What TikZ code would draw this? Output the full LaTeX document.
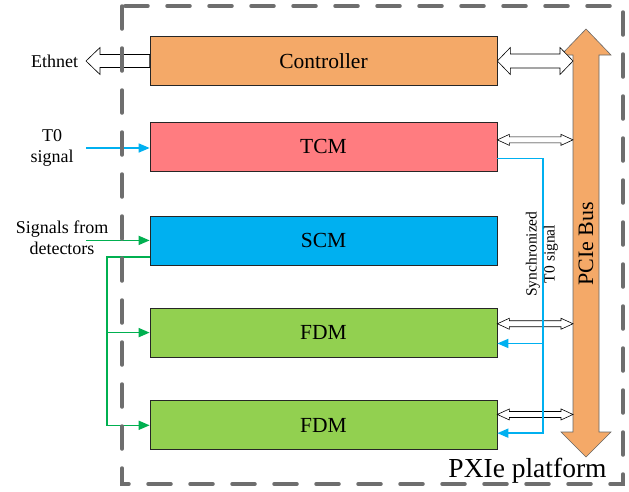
\documentclass[tikz,border=0pt]{standalone}
\usepackage{fontspec}
\setmainfont{Liberation Serif}
\usepackage{xcolor}
\usetikzlibrary{arrows.meta,positioning,calc}

\definecolor{ctrlorange}{HTML}{F4A968}
\definecolor{tcmred}{HTML}{FF7C80}
\definecolor{scmblue}{HTML}{00B0F0}
\definecolor{fdmgreen}{HTML}{92D050}
\definecolor{sigblue}{HTML}{00B0F0}
\definecolor{siggreen}{HTML}{00B050}
\definecolor{framegray}{HTML}{6E6E6E}

% hollow two-headed connector: from, to, half shaft, half head, head length
\newcommand{\dblhollow}[5]{%
  \draw[hollow] let \p1=#1, \p2=#2 in
    (\x1,\y1) -- (\x1+#5,\y1+#4) -- (\x1+#5,\y1+#3) -- (\x2-#5,\y1+#3)
    -- (\x2-#5,\y1+#4) -- (\x2,\y1) -- (\x2-#5,\y1-#4) -- (\x2-#5,\y1-#3)
    -- (\x1+#5,\y1-#3) -- (\x1+#5,\y1-#4) -- cycle;}
% hollow one-headed connector pointing left: from, tip, half shaft, half head, head length
\newcommand{\lefthollow}[5]{%
  \draw[hollow] let \p1=#1, \p2=#2 in
    (\x2,\y1) -- (\x2+#5,\y1+#4) -- (\x2+#5,\y1+#3) -- (\x1,\y1+#3)
    -- (\x1,\y1-#3) -- (\x2+#5,\y1-#3) -- (\x2+#5,\y1-#4) -- cycle;}

\begin{document}
\begin{tikzpicture}[x=1pt,y=-1pt,
      module/.style={
        rectangle,
        draw=black!85,
        line width=0.7pt,
        minimum width=347pt,
        minimum height=49pt,
        inner sep=0pt,
        font=\fontsize{21.5}{24}\selectfont
      },
      lbl/.style={align=center,inner sep=0pt,font=\fontsize{18}{20.5}\selectfont},
      hollow/.style={draw=black,fill=white,line width=0.6pt},
      bluesig/.style={draw=sigblue,line width=1.6pt},
      greensig/.style={draw=siggreen,line width=1.6pt},
      sigarrow/.style={-{Triangle[length=11pt,width=9pt]}},
      frame/.style={draw=framegray,line width=3.5pt,line cap=round,dash pattern=on 23pt off 19pt}
    ]
    \useasboundingbox (0,0) rectangle (629,491);

    % Modules
    \node[module,fill=ctrlorange] (ctrl) at (323.5,61) {Controller};
    \node[module,fill=tcmred,below=36pt of ctrl] (tcm) {TCM};
    \node[module,fill=scmblue,below=44pt of tcm] (scm) {SCM};
    \node[module,fill=fdmgreen,below=42.5pt of scm] (fdma) {FDM};
    \node[module,fill=fdmgreen,below=43pt of fdma] (fdmb) {FDM};

    % PCIe bus
    \draw[draw=black!60,fill=ctrlorange,line width=0.6pt]
      (586,29) -- (611,55) -- (599,55) -- (599,432) -- (611,432) -- (586,457)
      -- (561,432) -- (573,432) -- (573,55) -- (561,55) -- cycle;
    \node[rotate=90,font=\fontsize{22}{24}\selectfont] (pcie) at (586,244) {PCIe Bus};
    \coordinate (busL) at (573,243);

    % Outside labels
    \node[lbl] (eth) at (54.5,61) {Ethnet};
    \node[lbl] (t0lbl) at (52,148) {T0\\signal};
    \node[lbl] (detlbl) at (62,237.5) {Signals from\\detectors};
    \coordinate (inx) at (86,0);

    % Ports
    \coordinate (tcmport) at ($(tcm.north east)+(0,18)$);
    \coordinate (fdmaport) at ($(fdma.north east)+(0,16)$);
    \coordinate (fdmbport) at ($(fdmb.north east)+(0,14)$);
    \coordinate (syncout) at ($(tcm.south east)+(0,-13)$);
    \coordinate (fdmain) at ($(fdma.south east)+(0,-14)$);
    \coordinate (fdmbin) at ($(fdmb.south east)+(0,-17)$);
    \coordinate (syncx) at (543,0);
    \coordinate (scmout) at ($(scm.south west)+(0,-8)$);
    \coordinate (trunk) at (107,0);

    % Bus links
    \lefthollow{(ctrl.west)}{(inx |- ctrl.west)}{6.5pt}{13.5pt}{14pt}
    \dblhollow{(ctrl.east)}{(ctrl.east -| busL)}{7pt}{13.5pt}{13pt}
    \dblhollow{(tcmport)}{(tcmport -| busL)}{3pt}{5.5pt}{12pt}
    \dblhollow{(fdmaport)}{(fdmaport -| busL)}{3pt}{5.5pt}{12pt}
    \dblhollow{(fdmbport)}{(fdmbport -| busL)}{3pt}{5.5pt}{12pt}

    % T0 and synchronized T0
    \draw[bluesig,sigarrow] (inx |- t0lbl) -- (t0lbl -| tcm.west);
    \draw[bluesig,sigarrow] (syncout) -- (syncout -| syncx) -- (syncx |- fdmbin) -- (fdmbin);
    \draw[bluesig,sigarrow] (syncx |- fdmain) -- (fdmain);
    \node[rotate=90,align=center,font=\fontsize{15.5}{18}\selectfont] (synclbl) at (542,254) {Synchronized\\T0 signal};

    % Detector signals
    \draw[greensig,sigarrow] (inx |- scm.west) -- (scm.west);
    \draw[greensig,sigarrow] (scmout) -- (scmout -| trunk) -- (trunk |- fdmb.west) -- (fdmb.west);
    \draw[greensig,sigarrow] (trunk |- fdma.west) -- (fdma.west);

    % Platform
    \draw[frame] (122,6) rectangle (623,484);
    \node[anchor=base,font=\fontsize{27.5}{30}\selectfont] (pxie) at (527.5,477) {PXIe platform};
  \end{tikzpicture}
\end{document}
